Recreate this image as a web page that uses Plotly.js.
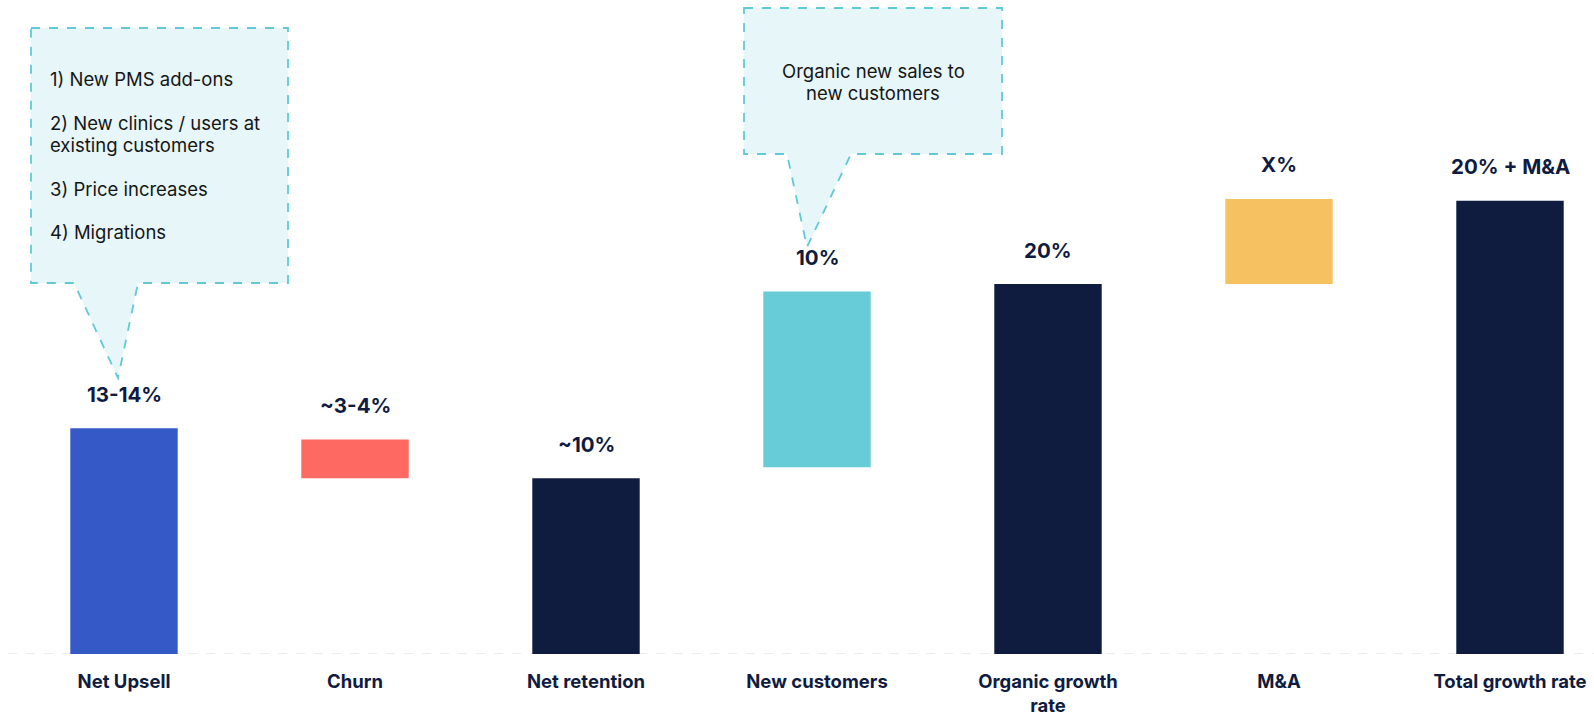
<!DOCTYPE html>
<html><head><meta charset="utf-8">
<script src="https://cdn.plot.ly/plotly-3.0.1.min.js"></script>
<style>html,body{margin:0;padding:0;background:#fff;overflow:hidden;} #chart{width:1594px;height:719px;}</style>
</head><body><div id="chart"></div>
<script>
// ---- data (in % growth) ----
const categories = ['Net Upsell', 'Churn', 'Net retention', 'New customers', 'Organic growth<br>rate', 'M&A', 'Total growth rate'];
const barStart = [0, 11.6, 0, 10.1, 0, 20.0, 0];
const barEnd = [12.2, 9.5, 9.5, 19.6, 20.0, 24.6, 24.5];
const valueLabels = ['13-14%', '~3-4%', '~10%', '10%', '20%', 'X%', '20% + M&A'];
const upsellDrivers = ['1) New PMS add-ons', '', '2) New clinics / users at', 'existing customers', '', '3) Price increases', '', '4) Migrations'];
const newCustomerNote = ['Organic new sales to', 'new customers'];

// ---- styles ----
const barColors = ['#3559c7', '#fe6a61', '#0f1c3f', '#67ccd7', '#0f1c3f', '#f6c261', '#0f1c3f'];
const NAVY = '#0f1c3f';
const FONT = 'Inter, Roboto, sans-serif';
const W = 1594, H = 719;
const M = {l: 0, r: 0, t: 99, b: 65};
const plotH = H - M.t - M.b;
const plotBottom = H - M.b;
const px = x => x / W;
const py = y => (plotBottom - y) / plotH;

const base = barStart.map((s, i) => Math.min(s, barEnd[i]));
const heights = barStart.map((s, i) => Math.abs(barEnd[i] - s));
const tops = barStart.map((s, i) => Math.max(s, barEnd[i]));

const trace = {
  type: 'bar',
  x: categories,
  y: heights,
  base: base,
  width: 0.465,
  marker: {color: barColors, line: {width: 0}},
  hoverinfo: 'skip'
};

const xRange = [-0.5368, -0.5368 + W / 231];
const catPx = i => (i - xRange[0]) / (xRange[1] - xRange[0]) * W;

function pathFrom(points) {
  return 'M ' + points.map(p => px(p[0]).toFixed(5) + ',' + py(p[1]).toFixed(5)).join(' L ') + ' Z';
}

const bubbleStyle = {fillcolor: '#e6f6f9', line: {color: '#5fcad6', width: 1.8, dash: 'dash'}, layer: 'below'};
const tip1 = catPx(0) - 6;
const tip2 = catPx(3) - 10;
const shapes = [
  Object.assign({type: 'path', xref: 'paper', yref: 'paper',
    path: pathFrom([[31, 28], [288, 28], [288, 283], [138, 283], [tip1, 378], [74, 283], [31, 283]])}, bubbleStyle),
  Object.assign({type: 'path', xref: 'paper', yref: 'paper',
    path: pathFrom([[744, 8], [1002, 8], [1002, 154], [851, 154], [tip2, 247], [787, 154], [744, 154]])}, bubbleStyle),
  {type: 'line', xref: 'paper', yref: 'y', x0: px(8), x1: 1, y0: 0, y1: 0,
   line: {color: '#e3e6ea', width: 1.6, dash: 'dash'}, layer: 'below'}
];

const annotations = categories.map((c, i) => ({
  x: c, y: tops[i], xref: 'x', yref: 'y', text: valueLabels[i], showarrow: false,
  yanchor: 'middle', yshift: 34,
  font: {family: FONT, size: 20.5, color: NAVY, weight: 700}
}));
const noteFont = {family: FONT, size: 18.5, color: '#151515'};
upsellDrivers.forEach((line, k) => {
  if (!line) return;
  annotations.push({
    xref: 'paper', yref: 'paper', x: px(48), y: py(79 + k * 21.9), xanchor: 'left', yanchor: 'middle',
    showarrow: false, text: line, font: noteFont
  });
});
newCustomerNote.forEach((line, k) => {
  annotations.push({
    xref: 'paper', yref: 'paper', x: px(873), y: py(71 + k * 22), xanchor: 'center', yanchor: 'middle',
    showarrow: false, text: line, font: noteFont
  });
});

const layout = {
  width: W, height: H,
  margin: M,
  paper_bgcolor: '#ffffff', plot_bgcolor: '#ffffff',
  showlegend: false,
  xaxis: {type: 'category', range: xRange, showgrid: false, zeroline: false, showline: false,
    ticks: '', ticklabelstandoff: 14,
    tickfont: {family: FONT, size: 18.5, color: NAVY, weight: 700}},
  yaxis: {range: [0, 30], visible: false, showgrid: false, zeroline: false, fixedrange: true},
  shapes: shapes,
  annotations: annotations
};

Plotly.newPlot('chart', [trace], layout, {displayModeBar: false, staticPlot: true});
</script>
</body></html>
